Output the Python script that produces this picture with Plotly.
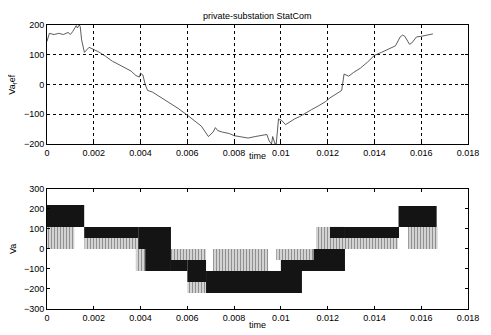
import plotly.graph_objects as go

# ---- top chart data: reference voltage ----
t_ref = [0, 0.0001, 0.0003, 0.0005, 0.0007, 0.0009, 0.001, 0.0011, 0.00125, 0.0013, 0.00138, 0.00142,
         0.00148, 0.00155, 0.0016, 0.0018, 0.002, 0.0022, 0.0025, 0.0028, 0.003, 0.0033, 0.0036, 0.0038,
         0.00395, 0.004, 0.0041, 0.0042, 0.0043, 0.0045, 0.0048, 0.005, 0.0053, 0.0056, 0.006, 0.0063,
         0.0066, 0.0069, 0.0071, 0.0072, 0.0073, 0.0075, 0.0078, 0.008, 0.0083, 0.0086, 0.0089, 0.0092,
         0.0094, 0.0095, 0.0096, 0.00965, 0.0097, 0.00975, 0.0098, 0.00985, 0.0099, 0.00995, 0.0100,
         0.0102, 0.0104, 0.0106, 0.0108, 0.011, 0.0113, 0.0116, 0.0119, 0.0121, 0.0123, 0.0125, 0.0126,
         0.0127, 0.0129, 0.0131, 0.0134, 0.0137, 0.014, 0.0143, 0.0146, 0.0149, 0.0151, 0.0152, 0.0153,
         0.0155, 0.0156, 0.0158, 0.016, 0.0162, 0.0165]
v_ref = [145, 172, 168, 172, 168, 175, 168, 178, 198, 190, 200, 195,
         150, 130, 108, 125, 118, 110, 95, 78, 70, 58, 45, 30,
         25, 38, 32, 0, -20, -25, -40, -50, -65, -80, -103, -120,
         -140, -175, -160, -145, -155, -160, -165, -172, -175, -180, -175, -172,
         -168, -190, -200, -175, -185, -200, -200, -160, -115, -120, -118,
         -135, -125, -115, -108, -98, -85, -72, -58, -45, -35, -25, -20,
         35, 28, 40, 55, 75, 98, 108, 118, 130, 160, 166, 162,
         135, 140, 160, 162, 165, 170]

# ---- bottom chart data: switching output Va, as bands (t_start, t_end, low, high) ----
sparse_t0 = [0.0000, 0.0016, 0.0038, 0.0053, 0.0060, 0.0071, 0.0098, 0.0115, 0.0127, 0.01544]
sparse_t1 = [0.00117, 0.0039, 0.0044, 0.0068, 0.0068, 0.00945, 0.0117, 0.0127, 0.0150, 0.0167]
sparse_lo = [0, 0, -110, -55, -220, -110, -55, 0, 0, 0]
sparse_hi = [110, 55, 0, 0, -165, 0, 0, 110, 55, 110]

dense_t0 = [0.0000, 0.00159, 0.0039, 0.0042, 0.0053, 0.0060, 0.0068, 0.0100, 0.0114, 0.0121, 0.01274, 0.01503]
dense_t1 = [0.00159, 0.0039, 0.0053, 0.0053, 0.0060, 0.0068, 0.0109, 0.0115, 0.01274, 0.01274, 0.01505, 0.01666]
dense_lo = [110, 55, 0, -110, -110, -165, -220, -110, -110, 55, 55, 110]
dense_hi = [220, 110, 110, 0, -55, -55, -110, -55, 0, 110, 110, 215]

x_ticks = [0, 0.002, 0.004, 0.006, 0.008, 0.01, 0.012, 0.014, 0.016, 0.018]
x_ticklabels = ["0", "0.002", "0.004", "0.006", "0.008", "0.01", "0.012", "0.014", "0.016", "0.018"]

fig = go.Figure()

fig.add_trace(go.Scatter(x=t_ref, y=v_ref, mode="lines", line=dict(color="#333", width=0.8),
                         xaxis="x", yaxis="y", showlegend=False, hoverinfo="skip"))

def band(t0, t1, lo, hi):
    return [t0, t1, t1, t0, t0], [lo, lo, hi, hi, lo]

for a, b, lo, hi in zip(sparse_t0, sparse_t1, sparse_lo, sparse_hi):
    xs, ys = band(a, b, lo, hi)
    fig.add_trace(go.Scatter(x=xs, y=ys, mode="lines", fill="toself", line=dict(width=0, color="#555"),
                             fillcolor="white",
                             fillpattern=dict(shape="|", size=3, solidity=0.6, fgcolor="#222", bgcolor="white"),
                             xaxis="x2", yaxis="y2", showlegend=False, hoverinfo="skip"))
for a, b, lo, hi in zip(dense_t0, dense_t1, dense_lo, dense_hi):
    xs, ys = band(a, b, lo, hi)
    fig.add_trace(go.Scatter(x=xs, y=ys, mode="lines", fill="toself", line=dict(width=0, color="#111"),
                             fillcolor="#141414",
                             xaxis="x2", yaxis="y2", showlegend=False, hoverinfo="skip"))

font = dict(family="Liberation Sans, Arial, sans-serif", size=9, color="black")
axis_common = dict(showline=True, linecolor="black", linewidth=1, mirror="ticks", ticks="inside",
                   ticklen=3, tickcolor="black", zeroline=False, tickfont=font)

# the page body adds an 8px offset at top-left, so the figure is 8px smaller with 8px smaller left/top margins
fig.update_layout(
    width=483, height=327,
    margin=dict(l=39, r=14, t=13, b=23),
    paper_bgcolor="white", plot_bgcolor="white",
    font=font,
    xaxis=dict(domain=[0, 1], range=[0, 0.018], tickvals=x_ticks, ticktext=x_ticklabels,
               ticklabeloverflow="allow",
               anchor="y", showgrid=True, gridcolor="black", griddash="dot", gridwidth=1, **axis_common),
    yaxis=dict(domain=[0.581, 1], range=[-200, 200], dtick=100, anchor="x",
               showgrid=True, gridcolor="black", griddash="dot", gridwidth=1, **axis_common),
    xaxis2=dict(domain=[0, 1], range=[0, 0.018], tickvals=x_ticks, ticktext=x_ticklabels,
                ticklabeloverflow="allow",
                anchor="y2", showgrid=False, **axis_common),
    yaxis2=dict(domain=[0, 0.4227], range=[-300, 300], dtick=100, anchor="x2", showgrid=False, **axis_common),
    annotations=[
        dict(text="private-substation StatCom", xref="paper", yref="paper", x=0.5, y=1, yshift=9,
             showarrow=False, font=font, xanchor="center", yanchor="middle"),
        dict(text="time", xref="paper", yref="paper", x=0.5, y=0.581, yshift=-12,
             showarrow=False, font=font, xanchor="center", yanchor="middle"),
        dict(text="time", xref="paper", yref="paper", x=0.5, y=0, yshift=-16,
             showarrow=False, font=font, xanchor="center", yanchor="middle"),
        dict(text="Va<sub>r</sub>ef", xref="paper", yref="paper", x=0, xshift=-34, y=0.79,
             textangle=-90, showarrow=False, font=font, xanchor="center", yanchor="middle"),
        dict(text="Va", xref="paper", yref="paper", x=0, xshift=-34, y=0.211,
             textangle=-90, showarrow=False, font=font, xanchor="center", yanchor="middle"),
    ],
)

fig.write_html("out.html")
